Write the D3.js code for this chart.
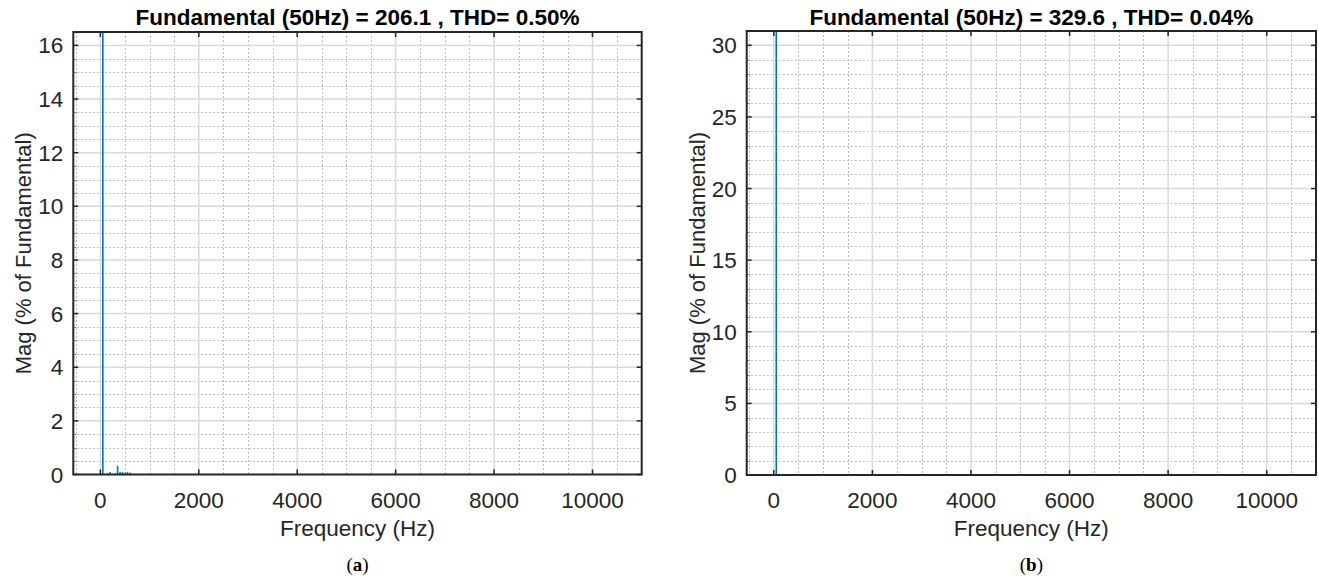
<!DOCTYPE html>
<html>
<head>
<meta charset="utf-8">
<script src="https://cdn.jsdelivr.net/npm/d3@7"></script>
<style>
  body { margin: 0; background: #fff; }
  svg { display: block; font-family: "Liberation Sans", Arial, Helvetica, sans-serif; }
</style>
</head>
<body>
<div id="chart"></div>
<script>
// FFT spectra, values
const harmFreqA = [50, 150, 200, 300, 350, 400, 450, 500, 550, 600, 650];
const harmMagA = [100, 0.05, 0.09, 0.04, 0.32, 0.10, 0.09, 0.07, 0.09, 0.07, 0.03];
const harmFreqB = [50, 150, 250, 350, 450];
const harmMagB = [100, 0.01, 0.02, 0.02, 0.01];

const titles = ["Fundamental (50Hz) = 206.1 , THD= 0.50%", "Fundamental (50Hz) = 329.6 , THD= 0.04%"];
const captions = ["a", "b"];
const xTicks = [0, 2000, 4000, 6000, 8000, 10000];
const yTicksA = [0, 2, 4, 6, 8, 10, 12, 14, 16];
const yTicksB = [0, 5, 10, 15, 20, 25, 30];

const width = 1319, height = 583;
const svg = d3.select("#chart").append("svg")
  .attr("width", width)
  .attr("height", height);

const axisColor = "#262626";

function drawPanel(opts) {
  const { left, right, top, bottom, freqs, mags, yMax, yTicks, yMinorStep, title, caption } = opts;

  const x = d3.scaleLinear().domain([-550, 11000]).range([left, right]);
  const y = d3.scaleLinear().domain([0, yMax]).range([bottom, top]);

  const g = svg.append("g");

  // minor grid (dotted)
  const xMinor = d3.range(-500, 11000, 500).filter(v => v % 2000 !== 0);
  const yMinor = d3.range(0, yMax, yMinorStep).filter(v => !yTicks.includes(+v.toFixed(3)) && v > 0);

  g.append("g")
    .attr("stroke", "#bdbdbd")
    .attr("stroke-width", 1)
    .attr("stroke-dasharray", "2,2")
    .selectAll("line.xm")
    .data(xMinor)
    .join("line")
    .attr("x1", d => Math.round(x(d)) + 0.5)
    .attr("x2", d => Math.round(x(d)) + 0.5)
    .attr("y1", top)
    .attr("y2", bottom);

  g.append("g")
    .attr("stroke", "#bdbdbd")
    .attr("stroke-width", 1)
    .attr("stroke-dasharray", "2,2")
    .selectAll("line")
    .data(yMinor)
    .join("line")
    .attr("x1", left)
    .attr("x2", right)
    .attr("y1", d => Math.round(y(d)) + 0.5)
    .attr("y2", d => Math.round(y(d)) + 0.5);

  // major grid
  g.append("g")
    .attr("stroke", "#d9d9d9")
    .attr("stroke-width", 1.5)
    .selectAll("line")
    .data(xTicks)
    .join("line")
    .attr("x1", d => x(d))
    .attr("x2", d => x(d))
    .attr("y1", top)
    .attr("y2", bottom);

  g.append("g")
    .attr("stroke", "#d9d9d9")
    .attr("stroke-width", 1.5)
    .selectAll("line")
    .data(yTicks.filter(v => v > 0))
    .join("line")
    .attr("x1", left)
    .attr("x2", right)
    .attr("y1", d => y(d))
    .attr("y2", d => y(d));

  // bars, clipped to the axes
  const clipId = "clip-" + caption;
  svg.append("clipPath").attr("id", clipId)
    .append("rect")
    .attr("x", left).attr("y", top)
    .attr("width", right - left).attr("height", bottom - top);

  g.append("g")
    .attr("clip-path", `url(#${clipId})`)
    .selectAll("rect")
    .data(freqs.map((f, i) => ({ f: f, m: mags[i] })))
    .join("rect")
    .attr("x", d => x(d.f) - 0.8)
    .attr("width", 1.6)
    .attr("y", d => y(d.m))
    .attr("height", d => bottom - y(d.m))
    .attr("fill", "#0072BD");

  // ticks (inward, on all four sides)
  const tickLen = 5;
  const ticks = g.append("g").attr("stroke", axisColor).attr("stroke-width", 1.5);
  ticks.selectAll("line.xb").data(xTicks).join("line").attr("class", "xb")
    .attr("x1", d => x(d)).attr("x2", d => x(d))
    .attr("y1", bottom).attr("y2", bottom - tickLen);
  ticks.selectAll("line.xt").data(xTicks).join("line").attr("class", "xt")
    .attr("x1", d => x(d)).attr("x2", d => x(d))
    .attr("y1", top).attr("y2", top + tickLen);
  ticks.selectAll("line.yl").data(yTicks).join("line").attr("class", "yl")
    .attr("x1", left).attr("x2", left + tickLen)
    .attr("y1", d => y(d)).attr("y2", d => y(d));
  ticks.selectAll("line.yr").data(yTicks).join("line").attr("class", "yr")
    .attr("x1", right).attr("x2", right - tickLen)
    .attr("y1", d => y(d)).attr("y2", d => y(d));

  // minor y ticks on the left edge
  g.append("g")
    .attr("stroke", "#8a8a8a")
    .attr("stroke-width", 1)
    .selectAll("line")
    .data(yMinor)
    .join("line")
    .attr("x1", left).attr("x2", left + 3)
    .attr("y1", d => Math.round(y(d)) + 0.5)
    .attr("y2", d => Math.round(y(d)) + 0.5);

  // axes box
  g.append("rect")
    .attr("x", left).attr("y", top)
    .attr("width", right - left).attr("height", bottom - top)
    .attr("fill", "none")
    .attr("stroke", axisColor)
    .attr("stroke-width", 2);

  // tick labels
  g.append("g")
    .attr("font-size", 22.5)
    .attr("fill", axisColor)
    .attr("text-anchor", "middle")
    .selectAll("text")
    .data(xTicks)
    .join("text")
    .attr("x", d => x(d))
    .attr("y", bottom + 33)
    .text(d => d);

  g.append("g")
    .attr("font-size", 22.5)
    .attr("fill", axisColor)
    .attr("text-anchor", "end")
    .selectAll("text")
    .data(yTicks)
    .join("text")
    .attr("x", left - 10)
    .attr("y", d => y(d) + 8)
    .text(d => d);

  // labels
  const cx = (left + right) / 2;
  g.append("text")
    .attr("x", cx).attr("y", 25)
    .attr("text-anchor", "middle")
    .attr("font-weight", "bold")
    .attr("font-size", 22.5)
    .attr("fill", "#000")
    .text(title);

  g.append("text")
    .attr("x", cx).attr("y", bottom + 61)
    .attr("text-anchor", "middle")
    .attr("font-size", 22.5)
    .attr("fill", axisColor)
    .text("Frequency (Hz)");

  g.append("text")
    .attr("transform", `translate(${left - 42},${(top + bottom) / 2}) rotate(-90)`)
    .attr("text-anchor", "middle")
    .attr("font-size", 22)
    .attr("fill", axisColor)
    .text("Mag (% of Fundamental)");

  const cap = g.append("text")
    .attr("x", cx).attr("y", 571)
    .attr("text-anchor", "middle")
    .attr("font-family", "'Liberation Serif', 'Times New Roman', serif")
    .attr("font-size", 19)
    .attr("fill", "#000");
  cap.append("tspan").text("(");
  cap.append("tspan").attr("font-weight", "bold").text(caption);
  cap.append("tspan").text(")");
}

drawPanel({
  left: 73.3, right: 641.7, top: 32, bottom: 474.5,
  freqs: harmFreqA, mags: harmMagA,
  yMax: 16.5, yTicks: yTicksA, yMinorStep: 0.5,
  title: titles[0], caption: captions[0]
});

drawPanel({
  left: 746.7, right: 1316, top: 31, bottom: 475,
  freqs: harmFreqB, mags: harmMagB,
  yMax: 31, yTicks: yTicksB, yMinorStep: 1,
  title: titles[1], caption: captions[1]
});
</script>
</body>
</html>
